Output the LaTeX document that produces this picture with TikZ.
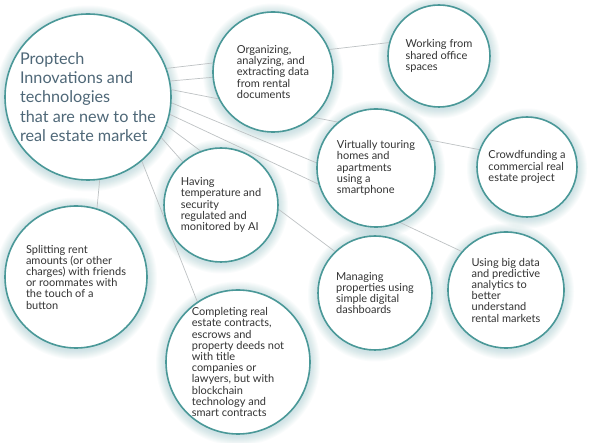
\documentclass[tikz,border=0pt]{standalone}
\usepackage{fontspec}
\setmainfont{Lato}
\usetikzlibrary{calc}
\definecolor{ring}{HTML}{4A9898}
\definecolor{glow}{HTML}{5FA8B0}
\definecolor{linkc}{HTML}{BEC2C4}
\definecolor{txt}{HTML}{333333}
\definecolor{titlec}{HTML}{4F6878}
\pgfdeclarelayer{bg}
\pgfsetlayers{bg,main}
\begin{document}
\begin{tikzpicture}[x=1pt,y=-1pt,
  bubble/.style={circle, draw=ring, line width=1.6pt, fill=white, inner sep=0pt, align=left, text=txt, font=\fontsize{11}{11.2}\selectfont},
  linkline/.style={draw=linkc, line width=0.7pt},
  glowring/.style={fill=glow, opacity=0.03}]
\useasboundingbox (0,0) rectangle (589,443);

\node[bubble, minimum size=166pt, text=titlec, font=\fontsize{16.2}{19.2}\selectfont] (main) at (88,97) {Proptech\\Innovations and\\technologies\\that are new to the\\real estate market};
\node[bubble, minimum size=120pt] (org) at (273,72) {Organizing,\\analyzing, and\\extracting data\\from rental\\documents};
\node[bubble, minimum size=102pt] (work) at (439,56) {Working from\\shared office\\spaces};
\node[bubble, minimum size=100pt] (crowd) at (527,167) {Crowdfunding a\\commercial real\\estate project};
\node[bubble, minimum size=118pt] (virt) at (376,168) {Virtually touring\\homes and\\apartments\\using a\\smartphone};
\node[bubble, minimum size=114pt] (ai) at (221,205) {Having\\temperature and\\security\\regulated and\\monitored by AI};
\node[bubble, minimum size=142pt] (split) at (76,277) {Splitting rent\\amounts (or other\\charges) with friends\\or roommates with\\the touch of a\\button};
\node[bubble, minimum size=144pt] (comp) at (238,362) {Completing real\\estate contracts,\\escrows and\\property deeds not\\with title\\companies or\\lawyers, but with\\blockchain\\technology and\\smart contracts};
\node[bubble, minimum size=114pt] (manage) at (375,293) {Managing\\properties using\\simple digital\\dashboards};
\node[bubble, minimum size=116pt] (big) at (506,290) {Using big data\\and predictive\\analytics to\\better\\understand\\rental markets};

\begin{pgfonlayer}{bg}
\fill[white] (0,0) rectangle (589,443);
\foreach \n/\r in {main/83, org/60, work/51, crowd/50, virt/59, ai/57, split/71, comp/72, manage/57, big/58}{
  \foreach \k in {1,...,10}{
    \fill[glowring] ([yshift=-1.5pt]\n.center) circle[radius=\r pt+\k*1pt];
  }
}
\draw[linkline] (main.20) -- (work.165);
\draw[linkline] (main.11) -- (org);
\draw[linkline] (main.5) -- (crowd.160);
\draw[linkline] (main.-4) -- (virt.175);
\draw[linkline] (main.-12) -- (big.139);
\draw[linkline] (main.-20) -- (manage.134);
\draw[linkline] (main.-29) -- (ai);
\draw[linkline] (main.-50) -- (comp.124);
\draw[linkline] (main.-82) -- (split.73);
\end{pgfonlayer}
\end{tikzpicture}
\end{document}
